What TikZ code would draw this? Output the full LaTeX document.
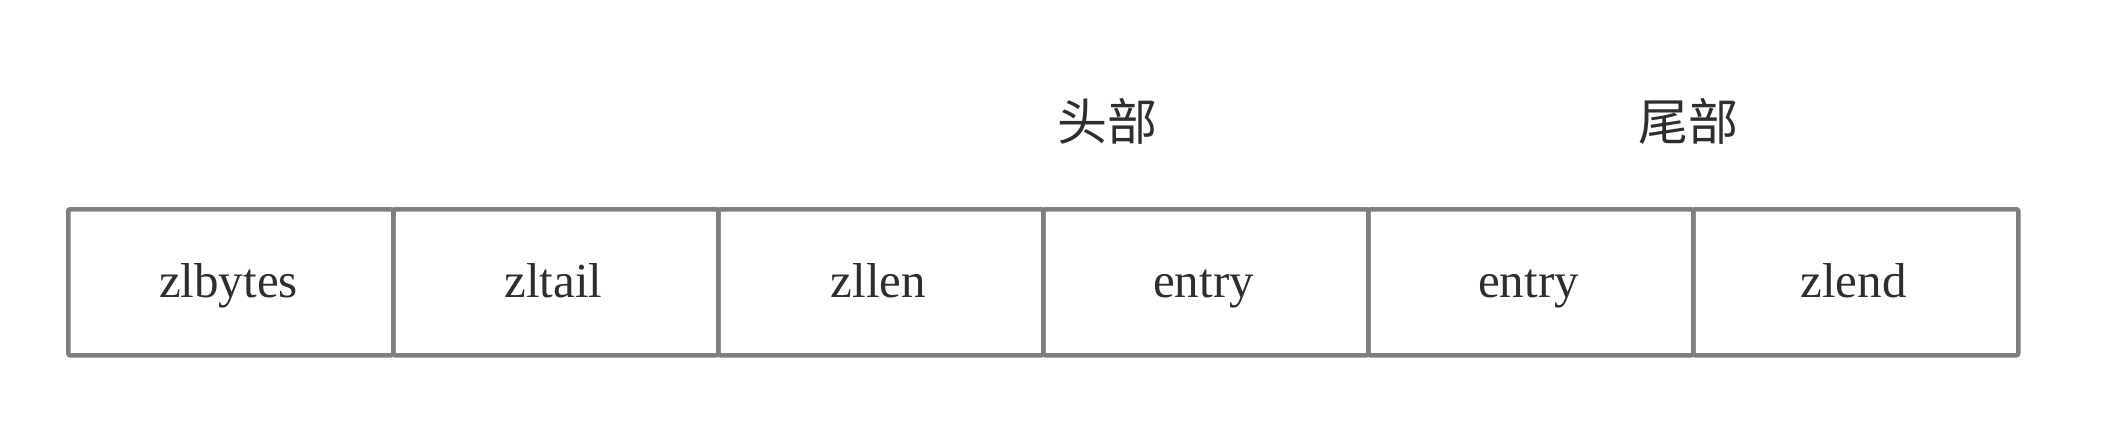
\documentclass[tikz,border=0pt]{standalone}
\usepackage{fontspec}
\setmainfont{Liberation Serif}
\newfontfamily\cjk{Noto Sans CJK SC}
\definecolor{linegray}{HTML}{7F7F7F}
\definecolor{txt}{HTML}{2E2E2E}
\begin{document}
\begin{tikzpicture}[x=1pt,y=-1pt,
  cell/.style={draw=linegray, line width=4.5pt, rounded corners=2pt, minimum width=325pt, minimum height=146pt, inner sep=0pt, anchor=north west},
  lbl/.style={text=txt, font=\fontsize{49}{55}\selectfont, anchor=base},
  hdr/.style={text=txt, font=\cjk\fontsize{50}{56}\selectfont, anchor=center}]
\useasboundingbox (0,0) rectangle (2116,436);
\fill[white] (0,0) rectangle (2116,436);
\node[cell] (c1) at (66,207) {};
\node[cell] (c2) at (391,207) {};
\node[cell] (c3) at (716,207) {};
\node[cell] (c4) at (1041,207) {};
\node[cell] (c5) at (1366,207) {};
\node[cell] (c6) at (1691,207) {};
\node[lbl] (t1) at (228.5,297) {zlbytes};
\node[lbl] (t2) at (553.5,297) {zltail};
\node[lbl] (t3) at (878.5,297) {zllen};
\node[lbl] (t4) at (1203.5,297) {entry};
\node[lbl] (t5) at (1528.5,297) {entry};
\node[lbl] (t6) at (1853.5,297) {zlend};
\node[hdr] (h1) at (1107,121) {头部};
\node[hdr] (h2) at (1688,121) {尾部};
\end{tikzpicture}
\end{document}
